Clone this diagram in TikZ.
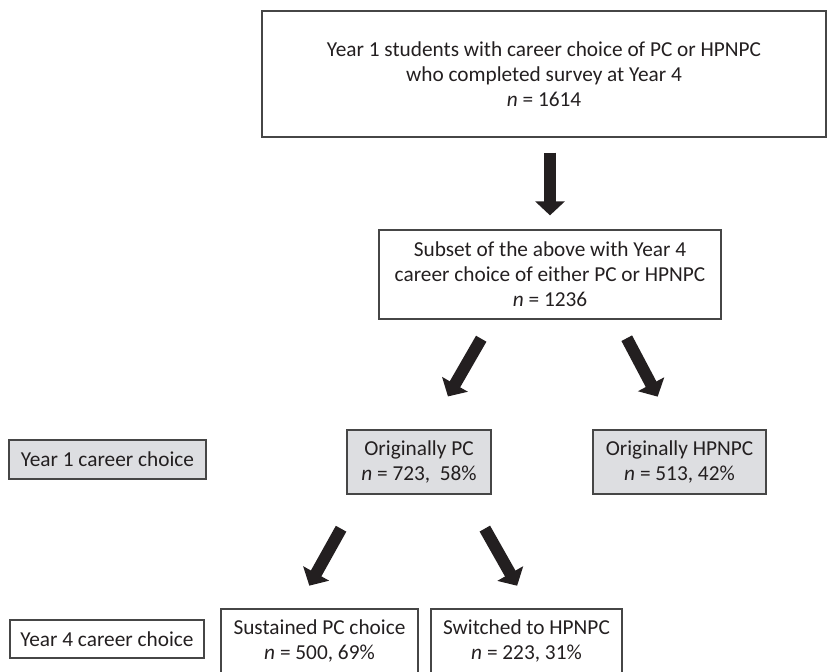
\documentclass[tikz,border=0pt]{standalone}
\usepackage{fontspec}
\setmainfont{Carlito}
\usetikzlibrary{arrows.meta}

\definecolor{ink}{RGB}{35,31,32}
\definecolor{boxgray}{RGB}{221,222,225}
\definecolor{rim}{RGB}{70,70,70}

\begin{document}
\begin{tikzpicture}[x=1pt,y=-1pt,>={Triangle[width=29pt,length=14pt]},
        box/.style={draw=rim,line width=1.3pt,align=center,text=ink,inner sep=0pt,
                    font=\fontsize{21.3}{25}\selectfont},
        shaded/.style={box,fill=boxgray},
        fat/.style={->,color=ink,line width=12pt}]
        \useasboundingbox (0,0) rectangle (830,672);

        \node[box,minimum width=564pt,minimum height=126pt] (top) at (544,74)
            {Year 1 students with career choice of PC or HPNPC\\who completed survey at Year 4\\\textit{n} = 1614};
        \node[box,minimum width=342pt,minimum height=89pt] (sub) at (550,274.5)
            {Subset of the above with Year 4\\career choice of either PC or HPNPC\\\textit{n} = 1236};

        \node[shaded,minimum width=197pt,minimum height=39pt] (year1) at (107.5,459.5) {Year 1 career choice};
        \node[shaded,minimum width=144pt,minimum height=64pt] (origpc) at (419,462) {Originally PC\\\textit{n} = 723,\ \ 58\%};
        \node[shaded,minimum width=173pt,minimum height=64pt] (orighp) at (679.5,462) {Originally HPNPC\\\textit{n} = 513, 42\%};

        \node[box,minimum width=194pt,minimum height=38pt] (year4) at (107,639) {Year 4 career choice};
        \node[box,minimum width=197pt,minimum height=64pt] (sust) at (319.5,641) {Sustained PC choice\\\textit{n} = 500, 69\%};
        \node[box,minimum width=191pt,minimum height=64pt] (switch) at (526.5,641) {Switched to HPNPC\\\textit{n} = 223, 31\%};

        \path[fat] (top.south -| sub.north) edge[shorten <=15pt,shorten >=14pt] (sub.north)
                   (sub.218) edge[shorten <=22pt,shorten >=38pt] (origpc.73)
                   (sub.326) edge[shorten <=21pt,shorten >=37pt] (orighp.98)
                   (origpc.209) edge[shorten <=39pt,shorten >=26pt] (sust.125)
                   (origpc.325) edge[shorten <=39pt,shorten >=26pt] (switch.84);
    \end{tikzpicture}
\end{document}
